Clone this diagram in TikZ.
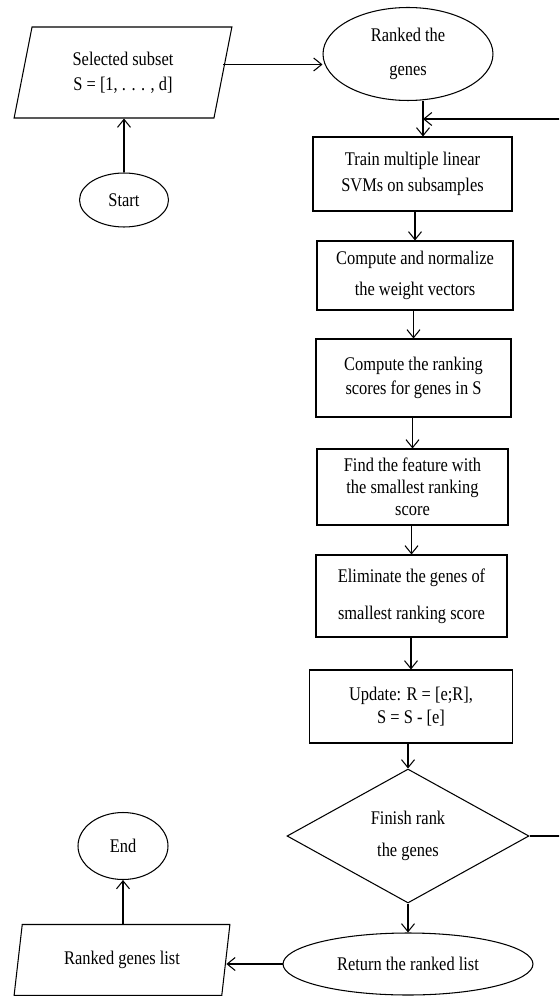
\documentclass[tikz,border=0pt]{standalone}
\usepackage{fontspec}
\setmainfont{Liberation Serif}[FakeStretch=0.85]
\usetikzlibrary{shapes.geometric,arrows.meta}

\tikzstyle{rect} = [rectangle, draw=black, align=center, inner sep=1pt]
\tikzstyle{io} = [trapezium, trapezium left angle=77, trapezium right angle=103, trapezium stretches=true, draw=black, align=center, inner sep=1pt]
\tikzstyle{term} = [ellipse, draw=black, align=center, inner sep=0pt]
\tikzstyle{decision} = [diamond, draw=black, align=center, inner sep=0pt]
\tikzstyle{arrow} = [->, >={Straight Barb[length=1.6mm,width=2.6mm]}]

\begin{document}
\begin{tikzpicture}[x=0.02cm, y=-0.02cm, line width=0.6pt, every node/.style={font=\fontsize{11}{13}\selectfont}]

\clip (0,0) rectangle (559,996);

\node (sel) [io, minimum width=4.38cm, minimum height=1.82cm] at (123,72.5) {Selected subset\\[1pt]S = [1, . . . , d]};

\node (start) [term, minimum width=1.78cm, minimum height=1.08cm] at (124,200) {Start};

\node (rank) [term, minimum width=3.4cm, minimum height=1.86cm] at (408,54) {Ranked the\\[6pt]genes};

\node (train) [rect, minimum width=3.98cm, minimum height=1.48cm] at (412.5,174) {Train multiple linear\\[2pt]SVMs on subsamples};

\node (norm) [rect, minimum width=3.92cm, minimum height=1.38cm] at (415,275.5) {Compute and normalize\\[5pt]the weight vectors};

\node (score) [rect, minimum width=3.9cm, minimum height=1.56cm] at (413.5,378) {Compute the ranking\\[1pt]scores for genes in S};

\node (find) [rect, minimum width=3.82cm, minimum height=1.52cm] at (412.5,487) {Find the feature with\\[-0.5pt]the smallest ranking\\[-0.5pt]score};

\node (elim) [rect, minimum width=3.82cm, minimum height=1.64cm] at (411.5,596) {Eliminate the genes of\\[8pt]smallest ranking score};

\node (upd) [rect, minimum width=4.06cm, minimum height=1.46cm] at (411,706.5) {Update: R = [e;R],\\S = S - [e]};

\node (fin) [decision, minimum width=4.84cm, minimum height=2.68cm] at (408,836) {Finish rank\\[5pt]the genes};

\node (ret) [term, minimum width=5cm, minimum height=1.24cm] at (408,964) {Return the ranked list};

\node (list) [io, minimum width=4.32cm, minimum height=1.42cm] at (122,960) {Ranked genes list};

\node (end) [term, minimum width=1.8cm, minimum height=1.34cm] at (123,846) {End};

\coordinate (fb) at (423,119);
\coordinate (corner) at (565,119);

\draw[arrow] (start.north) -- (start.north |- sel.south);
\draw[arrow] ([yshift=0.16cm]sel.east) -- ([yshift=0.16cm]sel.east -| rank.west);
\draw[arrow] (rank.south -| fb) -- (train.north -| fb);

\foreach \a/\b in {train/norm, norm/score, score/find, find/elim, elim/upd, upd/fin, fin/ret}
  \draw[arrow] (\b.north |- \a.south) -- (\b.north);

\draw[arrow] (fin.east) -- (fin.east -| corner) -- (corner) -- (fb);
\draw[arrow] (ret.west) -- (ret.west -| list.east);
\draw[arrow] (list.north -| end) -- (end.south);

\end{tikzpicture}
\end{document}
